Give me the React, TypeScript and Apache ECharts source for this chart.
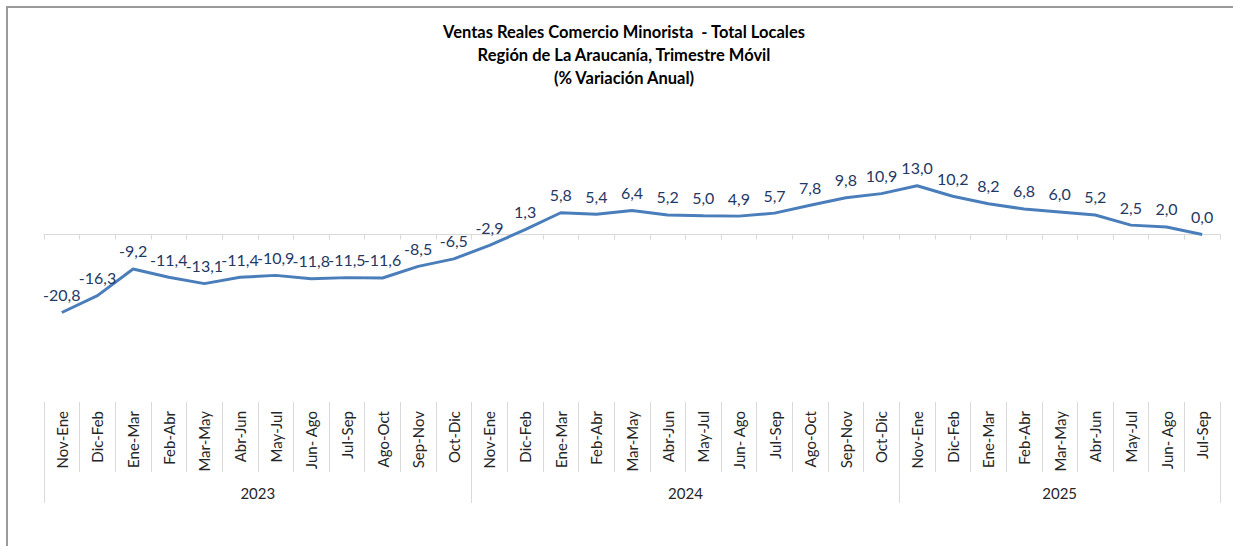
import React, { useEffect, useRef } from "react";
import * as echarts from "echarts";

const categories = [
  "Nov-Ene", "Dic-Feb", "Ene-Mar", "Feb-Abr", "Mar-May", "Abr-Jun", "May-Jul", "Jun- Ago", "Jul-Sep", "Ago-Oct", "Sep-Nov", "Oct-Dic",
  "Nov-Ene", "Dic-Feb", "Ene-Mar", "Feb-Abr", "Mar-May", "Abr-Jun", "May-Jul", "Jun- Ago", "Jul-Sep", "Ago-Oct", "Sep-Nov", "Oct-Dic",
  "Nov-Ene", "Dic-Feb", "Ene-Mar", "Feb-Abr", "Mar-May", "Abr-Jun", "May-Jul", "Jun- Ago", "Jul-Sep",
];

const values = [
  -20.8, -16.3, -9.2, -11.4, -13.1, -11.4, -10.9, -11.8, -11.5, -11.6, -8.5, -6.5,
  -2.9, 1.3, 5.8, 5.4, 6.4, 5.2, 5.0, 4.9, 5.7, 7.8, 9.8, 10.9,
  13.0, 10.2, 8.2, 6.8, 6.0, 5.2, 2.5, 2.0, 0.0,
];

const years = ["2023", "2024", "2025"];
const yearBoundaries = [0, 12, 24, 33];
const yearCenters = [6, 18, 28.5];

const titleLines = [
  "Ventas Reales Comercio Minorista  - Total Locales",
  "Región de La Araucanía, Trimestre Móvil",
  "(% Variación Anual)",
];

const FONT = "Lato, 'Noto Sans', sans-serif";

export default function App() {
  const ref = useRef<HTMLDivElement>(null);

  useEffect(() => {
    document.body.style.margin = "0";
    if (!ref.current) return;
    const chart = echarts.init(ref.current, undefined, { renderer: "svg" });
    const option: any = {
      animation: false,
      backgroundColor: "#ffffff",
      title: {
        text: titleLines.join("\n"),
        left: 619,
        top: 15,
        textAlign: "center",
        textStyle: {
          fontFamily: FONT,
          fontWeight: "bold",
          fontSize: 16.5,
          lineHeight: 23,
          color: "#000000",
        },
      },
      graphic: [
        { type: "line", shape: { x1: 6, y1: 7, x2: 1233, y2: 7 }, style: { stroke: "#9a9a9a", lineWidth: 2 } },
        { type: "line", shape: { x1: 7, y1: 6, x2: 7, y2: 546 }, style: { stroke: "#9a9a9a", lineWidth: 2 } },
      ],
      grid: {
        left: 44,
        right: 13,
        top: 159.5,
        bottom: 199,
        containLabel: false,
        outerBoundsMode: "none",
      },
      xAxis: [
        {
          type: "category",
          data: categories,
          boundaryGap: true,
          axisLine: { show: true, onZero: true, lineStyle: { color: "#d9d9d9", width: 1 } },
          axisTick: { show: true, length: 5, interval: 0, lineStyle: { color: "#d9d9d9" } },
          axisLabel: { show: false },
          splitLine: { show: false },
        },
        {
          type: "category",
          data: categories,
          position: "bottom",
          offset: 55,
          boundaryGap: true,
          axisLine: { show: false, onZero: false },
          axisTick: { show: true, length: 70, interval: 0, lineStyle: { color: "#d9d9d9" } },
          axisLabel: {
            show: true,
            interval: 0,
            rotate: 90,
            margin: 9,
            fontFamily: FONT,
            fontSize: 15,
            color: "#262626",
          },
          splitLine: { show: false },
        },
        {
          type: "value",
          min: 0,
          max: yearBoundaries[yearBoundaries.length - 1],
          position: "bottom",
          offset: 55,
          axisLine: { show: false, onZero: false },
          axisTick: {
            show: true,
            length: 101,
            customValues: yearBoundaries,
            lineStyle: { color: "#d9d9d9" },
          },
          axisLabel: {
            show: true,
            customValues: yearCenters,
            margin: 83,
            fontFamily: FONT,
            fontSize: 15,
            color: "#262626",
            formatter: (v: number) => {
              const i = yearCenters.indexOf(v);
              return i >= 0 ? years[i] : "";
            },
          },
          splitLine: { show: false },
        },
      ],
      yAxis: {
        type: "value",
        min: -30,
        max: 20,
        show: false,
        splitLine: { show: false },
      },
      series: [
        {
          type: "line",
          xAxisIndex: 0,
          data: values,
          symbol: "circle",
          symbolSize: 0.01,
          showSymbol: true,
          itemStyle: { color: "#4a7ebb" },
          lineStyle: { color: "#4a7ebb", width: 3 },
          label: {
            show: true,
            position: "top",
            distance: 10,
            fontFamily: FONT,
            fontSize: 16,
            color: "#1f3864",
            formatter: (p: any) => Number(p.value).toFixed(1).replace(".", ","),
          },
        },
      ],
    };
    chart.setOption(option);
    return () => chart.dispose();
  }, []);

  return <div ref={ref} style={{ width: 1233, height: 546 }} />;
}
